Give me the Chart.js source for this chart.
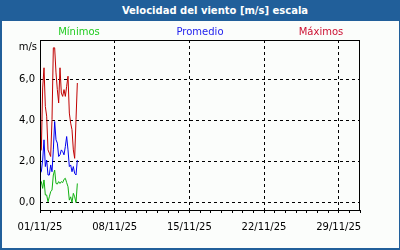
<!DOCTYPE html>
<html>
<head>
<meta charset="utf-8">
<script src="https://cdn.jsdelivr.net/npm/chart.js@4.4.1/dist/chart.umd.min.js"></script>
<style>
  html, body { margin: 0; padding: 0; background: #fff; }
  #wrap { position: relative; width: 400px; height: 250px; background: #215f9a; overflow: hidden; }
  #panel { position: absolute; left: 2px; top: 21px; width: 397px; height: 227px; background: #fbfdfb; }
  #title { position: absolute; left: 30px; top: 0; width: 370px; height: 21px;
           font: bold 10px "DejaVu Sans"; line-height: 21px;
           text-align: center; color: #fff; }
  #chart { position: absolute; left: 0; top: 0; }
</style>
</head>
<body>
<div id="wrap">
  <div id="panel"></div>
  <div id="title">Velocidad del viento [m/s] escala</div>
  <canvas id="chart" width="400" height="250"></canvas>
</div>
<script>
// hours since 01/11/25 00:00
const hours = [0, 3, 6, 9, 12, 15, 18, 21, 24, 27, 30, 33, 36, 39, 42, 45, 48, 51, 54, 57, 60, 63, 66, 69, 72, 75, 78, 81, 84];

const minimos = [0.77, 1.02, 0.69, 1.10, 0.37, 0.37, 0.04, 0.28, 0.53, 0.61, 1.34, 1.58, 0.93, 0.90, 1.02,
                 0.93, 1.02, 0.97, 1.13, 1.18, 0.97, 0.77, 0.12, 0.28, 0.00, 0.45, 0.28, 0.00, 0.93];
const promedio = [1.42, 1.50, 2.07, 3.05, 1.75, 2.07, 1.34, 1.34, 1.83, 1.50, 2.56, 3.94, 3.05, 2.89, 2.24,
                  2.32, 2.56, 2.48, 2.32, 2.72, 3.21, 2.56, 1.75, 1.83, 1.50, 1.75, 1.42, 1.34, 2.07];
const maximos = [2.48, 2.56, 5.57, 6.55, 4.67, 4.20, 2.56, 2.40, 2.24, 4.03, 7.52, 7.52, 6.30, 5.49, 4.84,
                 6.55, 5.32, 5.16, 5.49, 5.16, 5.65, 6.14, 4.35, 3.86, 3.54, 2.56, 2.15, 4.03, 5.81];

const seriesNames = ['Mínimos', 'Promedio', 'Máximos'];
const yTicks = [0, 2, 4, 6];
const xTickLabels = ['01/11/25', '08/11/25', '15/11/25', '22/11/25', '29/11/25'];

const toPoints = vals => hours.map((h, i) => ({ x: h, y: vals[i] }));
const fmt = v => v.toFixed(1).replace('.', ',');

// legend texts, unit label and the plot frame
const extras = {
  id: 'extras',
  afterDraw(chart) {
    const { ctx, chartArea: a } = chart;
    ctx.save();
    ctx.strokeStyle = '#000';
    ctx.lineWidth = 1;
    ctx.strokeRect(a.left + 0.5, a.top + 0.5, a.right - a.left - 1, a.bottom - a.top);
    ctx.font = '10px "DejaVu Sans"';
    ctx.textBaseline = 'middle';
    ctx.fillStyle = '#000';
    ctx.textAlign = 'right';
    ctx.fillText('m/s', 37, 47);
    ctx.textAlign = 'center';
    const mid = (a.left + a.right) / 2;
    chart.data.datasets.forEach((ds, i) => {
      ctx.fillStyle = ds.legendColor;
      ctx.fillText(ds.label, mid + (i - 1) * 121, 32);
    });
    ctx.restore();
  }
};

new Chart(document.getElementById('chart'), {
  type: 'line',
  data: {
    datasets: [
      { label: seriesNames[0], data: toPoints(minimos), borderColor: '#10b010', legendColor: '#22cc22', order: 1 },
      { label: seriesNames[1], data: toPoints(promedio), borderColor: '#0000ee', legendColor: '#2222ee', order: 2 },
      { label: seriesNames[2], data: toPoints(maximos), borderColor: '#c00000', legendColor: '#cc1133', order: 3 },
    ]
  },
  options: {
    responsive: false,
    animation: false,
    layout: { padding: { top: 40, right: 40, left: 0, bottom: 0 } },
    elements: {
      point: { radius: 0 },
      line: { borderWidth: 1, tension: 0 }
    },
    plugins: {
      legend: { display: false },
      title: { display: false },
      tooltip: { enabled: false }
    },
    scales: {
      x: {
        type: 'linear',
        min: 0,
        max: 720,
        afterFit: s => { s.height = 40; },
        border: { display: false, dash: [3, 3] },
        grid: {
          color: c => (c.tick && c.tick.value % 168 === 0) ? '#000' : 'rgba(0,0,0,0)',
          tickColor: '#000',
          tickLength: 3,
          tickBorderDash: []
        },
        ticks: {
          stepSize: 24,
          autoSkip: false,
          maxRotation: 0,
          padding: 8,
          color: '#000',
          font: { family: 'DejaVu Sans', size: 10 },
          callback: v => (v % 168 === 0) ? (xTickLabels[v / 168] || '') : ''
        }
      },
      y: {
        min: -0.36,
        max: 7.9,
        afterFit: s => { s.width = 40; },
        afterBuildTicks: s => { s.ticks = yTicks.map(v => ({ value: v })); },
        border: { display: false, dash: [3, 3] },
        grid: { color: '#000', drawTicks: false },
        ticks: {
          padding: 5,
          color: '#000',
          font: { family: 'DejaVu Sans', size: 10 },
          callback: v => fmt(v)
        }
      }
    }
  },
  plugins: [extras]
});
</script>
</body>
</html>
